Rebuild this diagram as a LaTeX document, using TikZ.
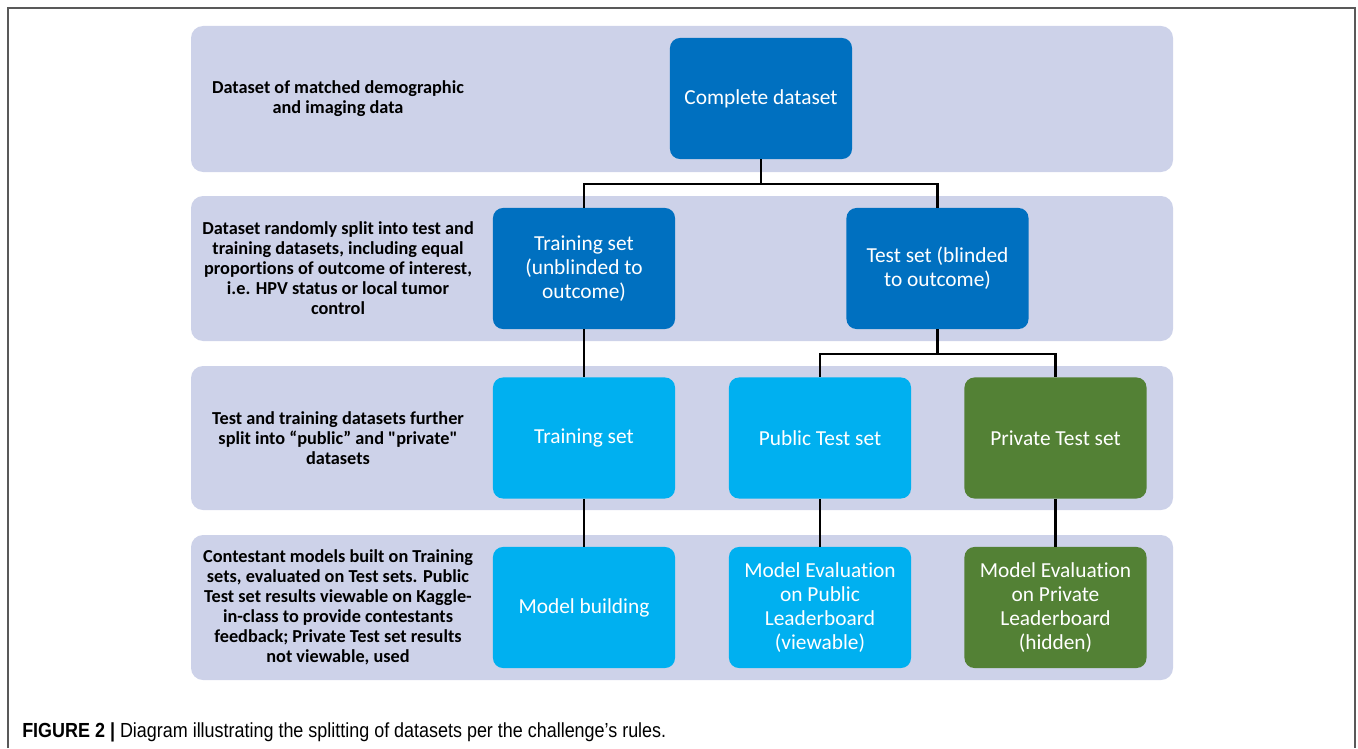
\documentclass[tikz,border=0pt]{standalone}
\usepackage{fontspec}
\setmainfont{Carlito}[Ligatures={TeXOff,CommonOff}]
\newfontfamily\capfont[FakeStretch=0.88]{Liberation Sans}
\definecolor{bandgray}{HTML}{CDD2E9}
\definecolor{darkblue}{HTML}{0070C0}
\definecolor{lightblue}{HTML}{00B0F0}
\definecolor{leafgreen}{HTML}{538135}

\begin{document}
\begin{tikzpicture}[x=0.025cm, y=-0.025cm,
    band/.style={fill=bandgray, rounded corners=0.3cm},
    setbox/.style={rounded corners=0.25cm, minimum width=4.55cm, minimum height=3.025cm,
        inner sep=0pt, text=white, align=center, font=\fontsize{15.2}{16.9}\selectfont},
    rowlabel/.style={align=center, font=\bfseries\fontsize{13}{14.2}\selectfont},
    conn/.style={line width=1.5pt, black}]
    \useasboundingbox (0,0) rectangle (1358,748);
\draw[line width=1pt, black!65] (8,748) -- (8,8) -- (1355,8) -- (1355,748) ; % frame
\fill[band] (191,26) rectangle (1173,172) ; % row 1
\fill[band] (191,196) rectangle (1173,341) ; % row 2
\fill[band] (191,366) rectangle (1173,510) ; % row 3
\fill[band] (191,535) rectangle (1173,680) ; % row 4
\node[rowlabel] (lab1) at (338,98.5) {Dataset of matched demographic\\and imaging data};
\node[rowlabel] (lab2) at (338,268.5) {Dataset randomly split into test and\\training datasets, including equal\\proportions of outcome of interest,\\i.e. HPV status or local tumor\\control};
\node[rowlabel] (lab3) at (338,438) {Test and training datasets further\\split into “public” and "private"\\datasets};
\node[rowlabel] (lab4) at (338,607.5) {Contestant models built on Training\\sets, evaluated on Test sets. Public\\Test set results viewable on Kaggle-\\in-class to provide contestants\\feedback; Private Test set results\\not viewable, used};
\node[setbox, fill=darkblue] (full) at (761,98.5) {Complete dataset};
\node[setbox, fill=darkblue] (train) at (584,268.5) {Training set\\(unblinded to\\outcome)};
\node[setbox, fill=darkblue] (test) at (937.5,268.5) {Test set (blinded\\to outcome)};
\node[setbox, fill=lightblue] (trainset) at (584,438) {Training set};
\node[setbox, fill=lightblue] (pubtest) at (820,438) {Public Test set};
\node[setbox, fill=leafgreen] (privtest) at (1055.5,438) {Private Test set};
\node[setbox, fill=lightblue] (build) at (584,607.5) {Model building};
\node[setbox, fill=lightblue] (pubeval) at (820,607.5) {Model Evaluation\\on Public\\Leaderboard\\(viewable)};
\node[setbox, fill=leafgreen] (priveval) at (1055.5,607.5) {Model Evaluation\\on Private\\Leaderboard\\(hidden)};
\draw[conn] (full.south) -- ++(0,25) -| (train.north) ;
\draw[conn] (full.south) -- ++(0,25) -| (test.north) ;
\draw[conn] (train.south) -- (trainset.north) ;
\draw[conn] (test.south) -- ++(0,25) -| (pubtest.north) ;
\draw[conn] (test.south) -- ++(0,25) -| (privtest.north) ;
\draw[conn] (trainset.south) -- (build.north) ;
\draw[conn] (pubtest.south) -- (pubeval.north) ;
\draw[conn] (privtest.south) -- (priveval.north) ;
\node[anchor=base west, inner sep=0pt, font=\capfont\fontsize{14.5}{16}\selectfont] (caption) at (22,737) {\textbf{FIGURE 2 |} Diagram illustrating the splitting of datasets per the challenge’s rules.};

    \end{tikzpicture}
\end{document}
